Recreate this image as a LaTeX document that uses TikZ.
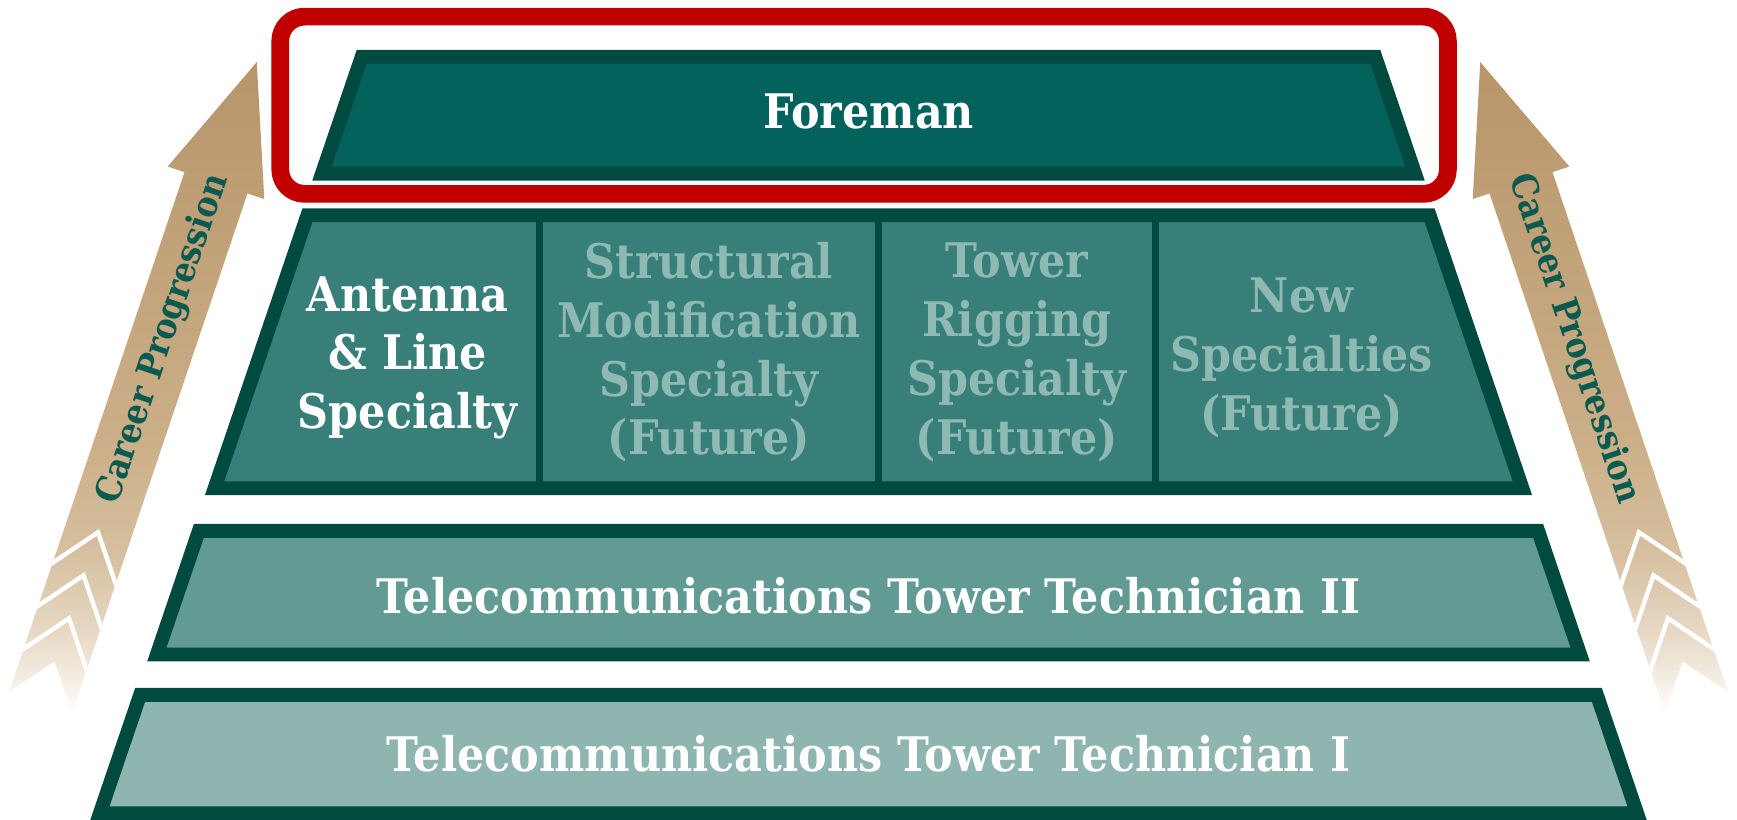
\documentclass[tikz,border=0pt]{standalone}
\usepackage{fontspec}
\setmainfont{DejaVu Serif}[FakeStretch=0.90]
\definecolor{rowborder}{HTML}{004A3F}
\definecolor{foremanfill}{HTML}{03625C}
\definecolor{specfill}{HTML}{377F78}
\definecolor{techtwofill}{HTML}{629A94}
\definecolor{techonefill}{HTML}{8FB5B1}
\definecolor{futuretext}{HTML}{8FBAB4}
\definecolor{redframe}{HTML}{C00000}
\definecolor{arrowtan}{HTML}{B8956A}
\definecolor{arrowmid}{HTML}{CBAF88}
\definecolor{arrowlight}{HTML}{D6C09F}
\definecolor{arrowpale}{HTML}{E6D8C4}
\definecolor{arrowfaint}{HTML}{F4EEE5}
\definecolor{arrowtext}{HTML}{0B5A50}
\pgfdeclareverticalshading{arrowfade}{100bp}{color(0bp)=(white); color(25bp)=(white); color(27.5bp)=(arrowfaint); color(31.3bp)=(arrowpale); color(37.2bp)=(arrowlight); color(45.7bp)=(arrowmid); color(75bp)=(arrowtan); color(100bp)=(arrowtan)}
\tikzset{
  rowshape/.style={draw=rowborder, line width=6.25pt, line join=miter},
  maintext/.style={text=white, font=\bfseries\fontsize{21.5}{26.5}\selectfont, inner sep=0pt, align=center},
  futuretxt/.style={maintext, text=futuretext},
  careertext/.style={text=arrowtext, font=\bfseries\fontsize{16}{18}\selectfont, inner sep=0pt},
  divider/.style={draw=rowborder, line width=3pt},
  gapline/.style={draw=white, line width=2pt},
}
\newcommand{\arrowbody}{(115,0) -- (0,46) -- (0,30) -- (-495,30) -- (-456,0) -- (-495,-30) -- (0,-30) -- (0,-46) -- cycle}
\begin{document}
\begin{tikzpicture}[x=0.5pt, y=-0.5pt]
\useasboundingbox (0,0) rectangle (1568,740);
\fill[white] (0,0) rectangle (1568,740);

% left arrow
\begin{scope}[shift={(195,165)}, rotate=71.35]
  \shade[shading=arrowfade] \arrowbody;
  \begin{scope}
    \clip \arrowbody;
    \foreach \k in {0,1,2} {
      \draw[gapline] (-372-41*\k-8,-36) -- (-333-41*\k,0) -- (-372-41*\k-8,36);
    }
  \end{scope}
  \node[careertext, rotate=71.35] (leftlabel) at (-149,0) {Career Progression};
\end{scope}

% right arrow
\begin{scope}[shift={(1373,165)}, rotate=108.65]
  \shade[shading=arrowfade] \arrowbody;
  \begin{scope}
    \clip \arrowbody;
    \foreach \k in {0,1,2} {
      \draw[gapline] (-372-41*\k-8,-36) -- (-333-41*\k,0) -- (-372-41*\k-8,36);
    }
  \end{scope}
  \node[careertext, rotate=-71.35] (rightlabel) at (-149,0) {Career Progression};
\end{scope}

% red frame
\draw[redframe, line width=8pt, rounded corners=11pt] (253,15) rectangle (1307,175);

% rows
\draw[rowshape, fill=foremanfill] (326.5,51.25) -- (1241.5,51.25) -- (1277.4,156.75) -- (290.6,156.75) -- cycle;
\draw[rowshape, fill=specfill] (277.5,194.25) -- (1290.5,194.25) -- (1374.3,440.75) -- (193.7,440.75) -- cycle;
\draw[rowshape, fill=techtwofill] (179.5,479.25) -- (1388.5,479.25) -- (1426.4,590.75) -- (141.6,590.75) -- cycle;
\draw[rowshape, fill=techonefill] (126.5,627.25) -- (1441.5,627.25) -- (1477.9,734.25) -- (90.1,734.25) -- cycle;

% dividers
\foreach \xd in {487,793,1043} {
  \draw[divider] (\xd,197) -- (\xd,438);
}

% texts
\node[maintext] (foreman) at (784,101) {Foreman};
\node[maintext] (antenna) at (368,323) {Antenna\\\& Line\\Specialty};
\node[futuretxt] (structural) at (640,318) {Structural\\Modification\\Specialty\\(Future)};
\node[futuretxt] (rigging) at (918,318) {Tower\\Rigging\\Specialty\\(Future)};
\node[futuretxt] (newspec) at (1175,323) {New\\Specialties\\(Future)};
\node[maintext] (techtwo) at (784,538) {Telecommunications Tower Technician II};
\node[maintext] (techone) at (784,680) {Telecommunications Tower Technician I};
\end{tikzpicture}
\end{document}
